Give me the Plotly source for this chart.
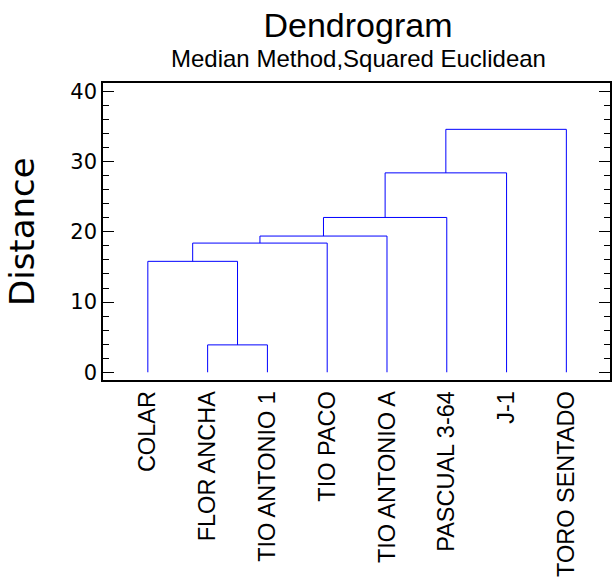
import plotly.graph_objects as go

# ---- data ----
leaf_labels = ["COLAR", "FLOR ANCHA", "TIO ANTONIO 1", "TIO PACO",
               "TIO ANTONIO A", "PASCUAL 3-64", "J-1", "TORO SENTADO"]
# linkage: indices 0..7 are leaves, 8.. are merged clusters (in order)
merge_left = [1, 0, 9, 10, 11, 12, 13]
merge_right = [2, 8, 3, 4, 5, 6, 7]
merge_height = [3.9, 15.8, 18.4, 19.4, 22.05, 28.4, 34.6]

y_ticks = [0, 10, 20, 30, 40]
y_minor_ticks = [2, 4, 6, 8, 12, 14, 16, 18, 22, 24, 26, 28, 32, 34, 36, 38]

# ---- build dendrogram segments ----
n = len(leaf_labels)
node_x = {i: i + 1 for i in range(n)}
node_y = {i: 0.0 for i in range(n)}
xs, ys = [], []
for k, (a, b, h) in enumerate(zip(merge_left, merge_right, merge_height)):
    xa, ya = node_x[a], node_y[a]
    xb, yb = node_x[b], node_y[b]
    xs += [xa, xa, xb, xb, None]
    ys += [ya, h, h, yb, None]
    node_x[n + k] = (xa + xb) / 2
    node_y[n + k] = h

fig = go.Figure()
fig.add_trace(go.Scatter(x=xs, y=ys, mode="lines",
                         line=dict(color="#0000FF", width=1),
                         hoverinfo="skip", showlegend=False))

W, H = 612, 585
L, R, T, B = 103, 2, 83, 205
pw, ph = W - L - R, H - T - B

def px_x(p):
    return (p - L) / pw

def px_y(p):
    return (H - B - p) / ph

fig.update_layout(
    width=W, height=H,
    margin=dict(l=L, r=R, t=T, b=B, pad=0, autoexpand=False),
    paper_bgcolor="white", plot_bgcolor="white",
    font=dict(family="Liberation Sans, Arial, sans-serif", color="black"),
    showlegend=False,
    title=dict(text="Dendrogram", x=px_x(358), xanchor="center",
               xref="paper", y=1 - 25 / H, yanchor="middle", yref="container",
               font=dict(size=34, family="Liberation Sans, Arial, sans-serif")),
    xaxis=dict(range=[0.25, 8.73], tickvals=list(range(1, n + 1)),
               ticktext=leaf_labels, tickangle=-90, ticks="",
               tickfont=dict(size=23.5), automargin=False,
               showgrid=False, zeroline=False, showline=True,
               linecolor="black", linewidth=1.5, mirror=True, fixedrange=True),
    yaxis=dict(range=[-1.1, 41.2], tickmode="array", tickvals=y_ticks,
               ticks="inside", ticklen=11, tickwidth=1.2, tickcolor="black",
               minor=dict(tickmode="array", tickvals=y_minor_ticks,
                          ticks="inside", ticklen=6, tickwidth=1,
                          tickcolor="black", showgrid=False),
               tickfont=dict(size=21, family="DejaVu Sans, sans-serif"),
               automargin=False,
               showgrid=False, zeroline=False, showline=True,
               linecolor="black", linewidth=1.5, mirror="ticks",
               fixedrange=True),
    annotations=[
        dict(text="Median Method,Squared Euclidean", x=px_x(358), y=px_y(59),
             xref="paper", yref="paper", xanchor="center", yanchor="middle",
             showarrow=False, font=dict(size=24)),
        dict(text="Distance", x=px_x(22), y=px_y(232), xref="paper",
             yref="paper", xanchor="center", yanchor="middle", textangle=-90,
             showarrow=False,
             font=dict(size=34, family="DejaVu Sans, sans-serif")),
    ],
)

fig.write_html("out.html", config={"displayModeBar": False},
               post_script="document.body.style.margin='0';")
